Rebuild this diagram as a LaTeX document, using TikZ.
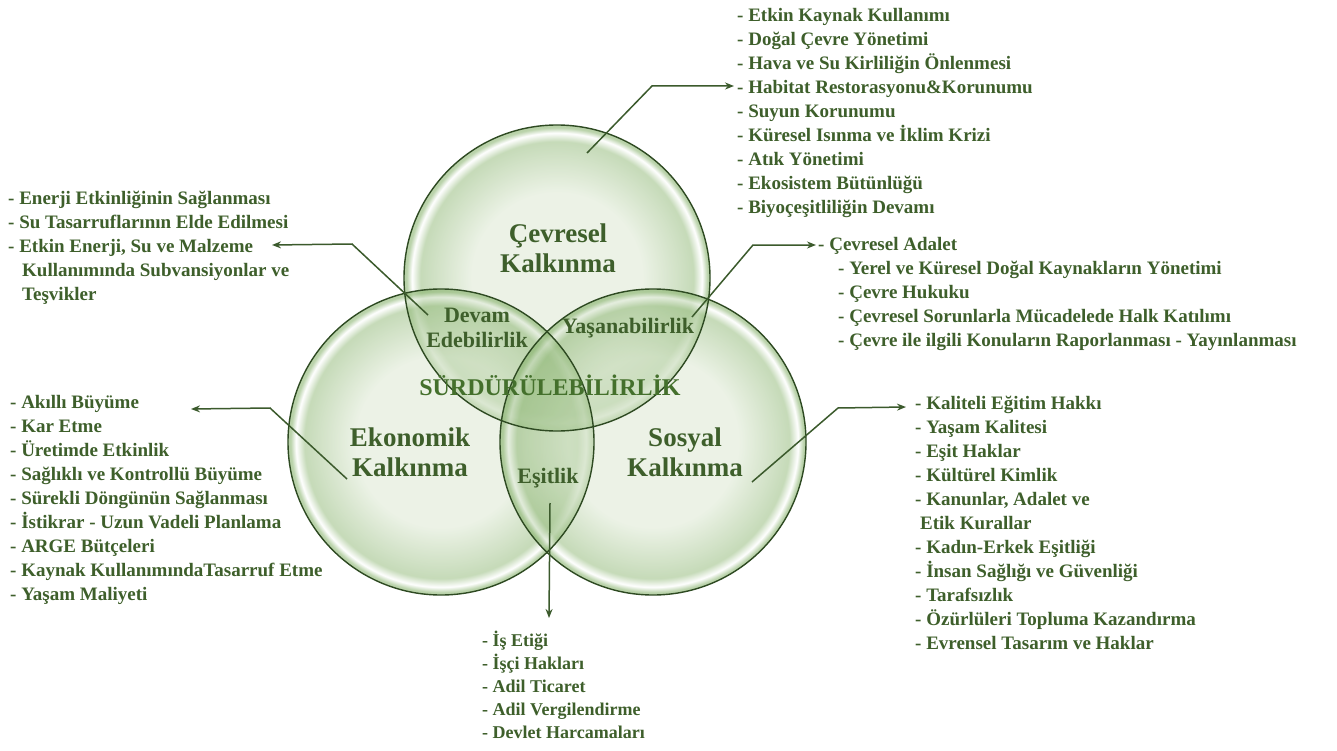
\documentclass[tikz,border=0pt]{standalone}
\usepackage{fontspec}
\setmainfont{Liberation Serif}
\usetikzlibrary{arrows.meta, positioning}

\definecolor{leafdark}{HTML}{2E4A22}
\definecolor{leaftext}{HTML}{3E5F2B}
\definecolor{leafline}{HTML}{3B5A2C}
\definecolor{leafpale}{HTML}{E2ECD9}
\definecolor{leafrim}{HTML}{94BB7C}
\definecolor{leafmain}{HTML}{44702C}

\pgfdeclareradialshading{glass}{\pgfpoint{0bp}{0bp}}{%
  color(0bp)=(leafpale); color(14bp)=(leafpale);
  color(22.3bp)=(leafrim!75!leafpale); color(23.7bp)=(white);
  color(24.6bp)=(leafrim); color(25bp)=(leafrim); color(50bp)=(leafrim)}

\begin{document}
\begin{tikzpicture}[x=1pt, y=-1pt,
        venn/.style={circle, minimum size=306pt, inner sep=0pt, shading=glass, fill opacity=0.65},
        rim/.style={circle, minimum size=306pt, inner sep=0pt, draw=leafdark, line width=1.4pt},
        lens/.style={fill=leafrim, fill opacity=0.18},
        title/.style={text=leaftext, font=\fontsize{27}{30}\selectfont\bfseries, align=center},
        overlap/.style={text=leaftext, font=\fontsize{22}{25}\selectfont\bfseries, align=center},
        % Style cho các listeler
        items/.style={text=leaftext, font=\fontsize{19}{24}\selectfont\bfseries, align=left, anchor=north west, inner sep=0pt},
        link/.style={draw=leafline, line width=1.5pt, -{Stealth[length=9pt, width=7pt]}}
    ]
        \fill[white] (0,0) rectangle (1337,751);
        \useasboundingbox (0,0) rectangle (1337,751);

        % Üç daire
        \node (cev) [venn] at (557,278) {};
        \node (eko) [venn] at (441,442) {};
        \node (sos) [venn] at (653,442) {};

        % Kesişim bölgeleri biraz daha yeşil
        \foreach \a/\b in {cev/eko, cev/sos, eko/sos} {
            \begin{scope}
                \clip (\a.center) circle (153);
                \fill[lens] (\b.center) circle (153);
            \end{scope}
        }
        \foreach \c in {cev,eko,sos}
            \node [rim] at (\c) {};

        % Daire başlıkları
        \node (cevt) [title] at (558,248) {Çevresel\\Kalkınma};
        \node (ekot) [title] at (410,452) {Ekonomik\\Kalkınma};
        \node (sost) [title] at (685,452) {Sosyal\\Kalkınma};
        \node (devam) [overlap] at (477,328) {Devam\\Edebilirlik};
        \node (yasam) [overlap] at (628,328) {Yaşanabilirlik};
        \node (esit) [overlap] at (548,478) {Eşitlik};

        % Orta yazı
        \node (surd) [text=leafmain, font=\fontsize{24}{28}\selectfont\bfseries] at (550,385) {SÜRDÜRÜLEBİLİRLİK};

        % Listeler
        \node (cevl) [items] at (737,8) {- Etkin Kaynak Kullanımı\\- Doğal Çevre Yönetimi\\- Hava ve Su Kirliliğin Önlenmesi\\- Habitat Restorasyonu\&Korunumu\\- Suyun Korunumu\\- Küresel Isınma ve İklim Krizi\\- Atık Yönetimi\\- Ekosistem Bütünlüğü\\- Biyoçeşitliliğin Devamı};
        \node (devl) [items] at (8,191) {- Enerji Etkinliğinin Sağlanması\\- Su Tasarruflarının Elde Edilmesi\\- Etkin Enerji, Su ve Malzeme\\\hspace*{14pt}Kullanımında Subvansiyonlar ve\\\hspace*{14pt}Teşvikler};
        \node (yasl) [items] at (818,237) {- Çevresel Adalet\\\hspace*{20pt}- Yerel ve Küresel Doğal Kaynakların Yönetimi\\\hspace*{20pt}- Çevre Hukuku\\\hspace*{20pt}- Çevresel Sorunlarla Mücadelede Halk Katılımı\\\hspace*{20pt}- Çevre ile ilgili Konuların Raporlanması - Yayınlanması};
        \node (ekol) [items] at (10,395) {- Akıllı Büyüme\\- Kar Etme\\- Üretimde Etkinlik\\- Sağlıklı ve Kontrollü Büyüme\\- Sürekli Döngünün Sağlanması\\- İstikrar - Uzun Vadeli Planlama\\- ARGE Bütçeleri\\- Kaynak KullanımındaTasarruf Etme\\- Yaşam Maliyeti};
        \node (sosl) [items] at (915,396) {- Kaliteli Eğitim Hakkı\\- Yaşam Kalitesi\\- Eşit Haklar\\- Kültürel Kimlik\\- Kanunlar, Adalet ve\\\hspace*{5pt}Etik Kurallar\\- Kadın-Erkek Eşitliği\\- İnsan Sağlığı ve Güvenliği\\- Tarafsızlık\\- Özürlüleri Topluma Kazandırma\\- Evrensel Tasarım ve Haklar};
        \node (esil) [items, font=\fontsize{18}{23}\selectfont\bfseries] at (482,631) {- İş Etiği\\- İşçi Hakları\\- Adil Ticaret\\- Adil Vergilendirme\\- Devlet Harcamaları};

        % Oklar
        \coordinate (cevs) at (587,153);
        \coordinate (cevk) at (652,86);
        \coordinate (cevp) at (734,86);
        \draw[link] (cevs) -- (cevk) -- (cevp);

        \coordinate (devs) at (428,315);
        \coordinate (devk) at (352,244);
        \coordinate (devp) at (272,245);
        \draw[link] (devs) -- (devk) -- (devp);

        \coordinate (yass) at (692,317);
        \coordinate (yask) at (753,245);
        \coordinate (yasp) at (816,245);
        \draw[link] (yass) -- (yask) -- (yasp);

        \coordinate (ekos) at (347,479);
        \coordinate (ekok) at (270,408);
        \coordinate (ekop) at (191,409);
        \draw[link] (ekos) -- (ekok) -- (ekop);

        \coordinate (soss) at (752,482);
        \coordinate (sosk) at (838,408);
        \coordinate (sosp) at (906,407);
        \draw[link] (soss) -- (sosk) -- (sosp);

        \coordinate (esis) at (550,503);
        \coordinate (esip) at (549,618);
        \draw[link] (esis) -- (esip);
    \end{tikzpicture}
\end{document}
